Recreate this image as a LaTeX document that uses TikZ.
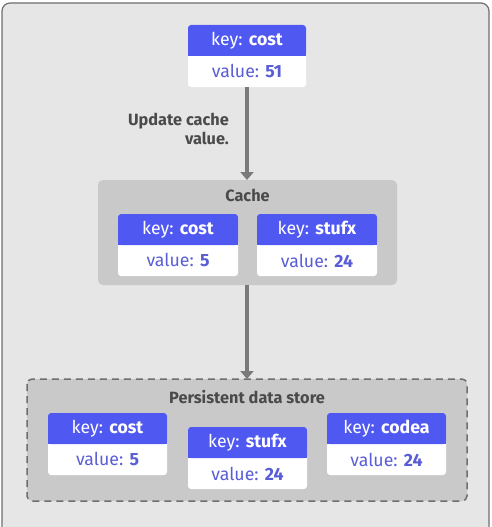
\documentclass[tikz,border=0pt]{standalone}
\usepackage{fontspec}
\setmainfont{Fira Sans}
\usetikzlibrary{arrows.meta}
\definecolor{bg}{HTML}{E6E6E6}
\definecolor{frame}{HTML}{6E6E6E}
\definecolor{boxg}{HTML}{C9C9C9}
\definecolor{hdr}{HTML}{5058F2}
\definecolor{valc}{HTML}{5A5ED6}
\definecolor{arr}{HTML}{7A7A7A}
\definecolor{txt}{HTML}{4A4A4A}
\tikzset{
  hdrbox/.style={fill=hdr, rounded corners=3pt},
  valbox/.style={fill=white, rounded corners=3pt},
  keytxt/.style={text=white, font=\fontsize{17.7}{20}\selectfont},
  valtxt/.style={text=valc, font=\fontsize{17.7}{20}\selectfont},
  ttl/.style={text=txt, font=\bfseries\fontsize{16.3}{19}\selectfont},
  conn/.style={draw=arr, line width=3.2pt, -{Triangle[width=13pt,length=8pt]}},
}
\newcommand{\kvcard}[6]{%
  % #1 name, #2 left, #3 top, #4 right, #5 key, #6 value
  \fill[valbox] (#2,#3) rectangle (#4,#3+62);
  \fill[hdrbox] (#2,#3) rectangle (#4,#3+31);
  \fill[hdr] (#2,#3+20) rectangle (#4,#3+31);
  \node[keytxt] (#1k) at ({(#2+#4)/2},#3+15.5) {key: \textbf{#5}};
  \node[valtxt] (#1v) at ({(#2+#4)/2},#3+46.5) {value: \textbf{#6}};
  \coordinate (#1top) at ({(#2+#4)/2},#3);
  \coordinate (#1bot) at ({(#2+#4)/2},#3+62);
}
\begin{document}
\begin{tikzpicture}[x=1pt,y=-1pt]
\useasboundingbox (0,0) rectangle (491,527);
\fill[bg, rounded corners=8pt] (2,3) rectangle (489,530);
\draw[frame, line width=1.2pt, rounded corners=8pt] (2,530) -- (2,3) -- (489,3) -- (489,530);
% top card
\kvcard{top}{188}{25}{306}{cost}{51}
% cache box
\fill[boxg, rounded corners=5pt] (98,180) rectangle (397,285);
\node[ttl] (cachet) at (247.5,195) {Cache};
\coordinate (cachetop) at (247,180);
\coordinate (cachebot) at (247,285);
\kvcard{ca}{118}{214}{238}{cost}{5}
\kvcard{cb}{257}{214}{377}{stufx}{24}
% persistent box
\fill[boxg, rounded corners=5pt] (27,379) rectangle (467,501);
\draw[frame, line width=1.5pt, dash pattern=on 7pt off 5pt, rounded corners=5pt] (27,379) rectangle (467,501);
\node[ttl] (pst) at (247,397) {Persistent data store};
\coordinate (psttop) at (247,379);
\kvcard{pa}{48}{413}{167}{cost}{5}
\kvcard{pb}{188}{427}{307}{stufx}{24}
\kvcard{pc}{327}{413}{446}{codea}{24}
% connectors
\draw[conn] (topbot) -- (cachetop);
\draw[conn] (cachebot) -- (psttop);
\node[ttl, align=right, anchor=east, inner sep=0pt] (lbl) at (229,129) {Update cache\\value.};
\end{tikzpicture}
\end{document}
